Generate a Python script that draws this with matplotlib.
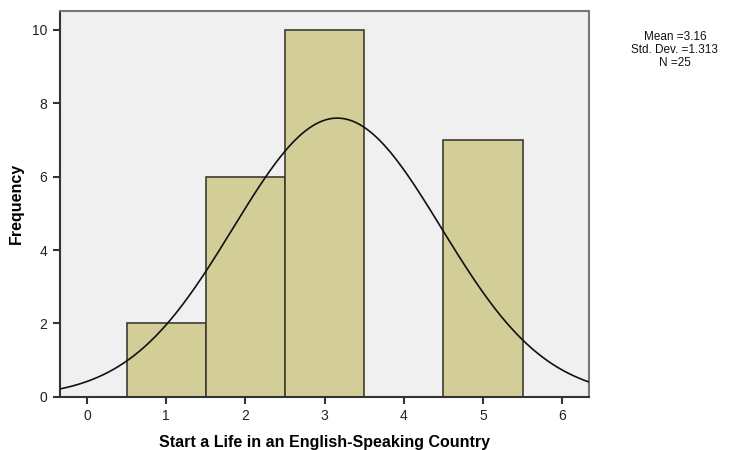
import numpy as np
import matplotlib.pyplot as plt

plt.rcParams['font.family'] = ['Liberation Sans', 'DejaVu Sans']

# Histogram data (SPSS output)
bin_centers = [1, 2, 3, 4, 5]
counts = [2, 6, 10, 0, 7]
mean_val = 3.16
std_val = 1.313
n_val = 25

fig = plt.figure(figsize=(7.36, 4.5), dpi=100)
ax = fig.add_axes([0.0815, 0.118, 0.719, 0.858])
ax.set_facecolor("#f0f0f0")

ax.bar(bin_centers, counts, width=1.0, color="#d3ce98",
       edgecolor="#3c3c32", linewidth=1.2, zorder=2)

# Normal curve scaled to counts (bin width 1)
xs = np.linspace(-0.34, 6.34, 400)
ys = n_val / (std_val * np.sqrt(2 * np.pi)) * np.exp(-0.5 * ((xs - mean_val) / std_val) ** 2)
ax.plot(xs, ys, color="#111111", linewidth=1.2, zorder=3)

ax.set_xlim(-0.34, 6.34)
ax.set_ylim(0, 10.52)
ax.set_xticks(range(0, 7))
ax.set_yticks(range(0, 11, 2))
ax.tick_params(direction='out', length=5, width=1.5, color="#333333",
               labelsize=10, labelcolor="#222222", pad=4)

for side in ['left', 'bottom']:
    ax.spines[side].set_color("#333333")
    ax.spines[side].set_linewidth(1.5)
for side in ['top', 'right']:
    ax.spines[side].set_color("#777777")
    ax.spines[side].set_linewidth(1.5)

ax.set_xlabel("Start a Life in an English-Speaking Country",
              fontsize=11.5, fontweight='bold', labelpad=8)
ax.set_ylabel("Frequency", fontsize=11.5, fontweight='bold', labelpad=6)

fig.text(0.917, 0.888, "Mean =%.2f\nStd. Dev. =%.3f\nN =%d" % (mean_val, std_val, n_val),
         ha='center', va='center', fontsize=8.5, linespacing=1.1, color="#111111")

fig.savefig("out.png", dpi=100)
